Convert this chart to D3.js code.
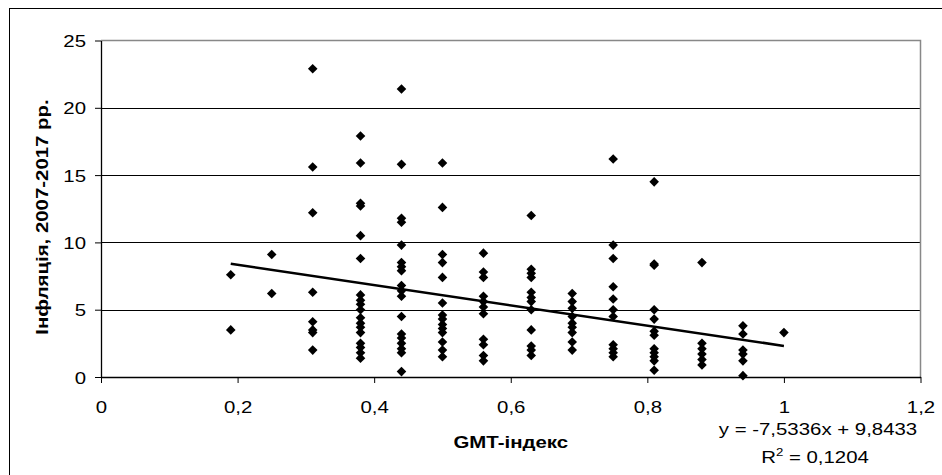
<!DOCTYPE html>
<html>
<head>
<meta charset="utf-8">
<script src="https://cdn.jsdelivr.net/npm/d3@7"></script>
<style>
  body { margin: 0; background: #fff; }
  svg { display: block; font-family: "Liberation Sans", Arial, sans-serif; }
</style>
</head>
<body>
<svg id="chart" width="942" height="475"></svg>
<script>
// GMT index levels (x) and inflation values found at each level (y)
const gmtIndex = [0.19, 0.25, 0.31, 0.38, 0.44, 0.5, 0.56, 0.63, 0.69, 0.75, 0.81, 0.88, 0.94, 1];
const inflationByIndex = [
  [7.6, 3.5],
  [9.1, 6.2],
  [22.9, 15.6, 12.2, 6.3, 4.1, 3.5, 3.3, 2.0],
  [17.9, 15.9, 12.9, 12.7, 10.5, 8.8, 6.1, 5.7, 5.4, 5.0, 4.4, 4.0, 3.7, 3.3, 2.5, 2.2, 1.8, 1.4],
  [21.4, 15.8, 11.8, 11.5, 9.8, 8.5, 8.2, 7.9, 6.8, 6.4, 6.0, 4.5, 3.2, 2.9, 2.5, 2.1, 1.8, 0.4],
  [15.9, 12.6, 9.1, 8.5, 7.4, 5.5, 4.6, 4.3, 3.9, 3.6, 3.3, 2.6, 2.0, 1.5],
  [9.2, 7.8, 7.4, 6.0, 5.6, 5.2, 4.7, 2.8, 2.4, 1.6, 1.2],
  [12.0, 8.0, 7.7, 7.4, 6.3, 5.9, 5.6, 5.0, 3.5, 2.3, 2.0, 1.6],
  [6.2, 5.6, 5.1, 4.5, 4.0, 3.7, 3.3, 2.6, 2.0],
  [16.2, 9.8, 8.8, 6.7, 5.8, 5.0, 4.5, 2.4, 2.1, 1.8, 1.5],
  [14.5, 8.4, 8.3, 5.0, 4.3, 3.4, 3.1, 2.1, 1.8, 1.5, 1.2, 0.5],
  [8.5, 2.5, 2.1, 1.7, 1.3, 0.9],
  [3.8, 3.2, 2.0, 1.7, 1.2, 0.1],
  [3.3]
];
const xTicks = [0, 0.2, 0.4, 0.6, 0.8, 1, 1.2];
const yTicks = [0, 5, 10, 15, 20, 25];
const gridValues = [5, 10, 15, 20];

// linear trend from the original chart
const trendSlope = -7.5336;
const trendIntercept = 9.8433;
const rSquared = 0.1204;

const xTitle = "GMT-індекс";
const yTitle = "Інфляція, 2007-2017 рр.";

// the original text is drawn wider than Arial, so stretch it a bit
const STRETCH = 1.2;
const FONT_SIZE = 17;

const ua = d3.formatLocale({decimal: ",", thousands: " ", grouping: [3], currency: ["", ""], minus: "-"});

const points = [];
gmtIndex.forEach((g, i) => inflationByIndex[i].forEach(v => points.push({x: g, y: v})));

const svg = d3.select("#chart");
const plot = {left: 101, top: 40.5, right: 920.5, bottom: 377};

const xScale = d3.scaleLinear().domain([0, 1.2]).range([plot.left, plot.right]);
const yScale = d3.scaleLinear().domain([0, 25]).range([plot.bottom, plot.top]);

// outer chart border
svg.append("rect")
  .attr("x", 9.5).attr("y", 8.5)
  .attr("width", 950).attr("height", 480)
  .attr("fill", "none").attr("stroke", "#000").attr("stroke-width", 1);

// grid lines
svg.append("g").selectAll("line")
  .data(gridValues)
  .join("line")
  .attr("x1", plot.left).attr("x2", plot.right)
  .attr("y1", d => Math.round(yScale(d)) + 0.5)
  .attr("y2", d => Math.round(yScale(d)) + 0.5)
  .attr("stroke", "#000").attr("stroke-width", 1);

// plot area border top + right (grey)
svg.append("path")
  .attr("d", `M${plot.left},${plot.top}H${plot.right}V${plot.bottom}`)
  .attr("fill", "none").attr("stroke", "#888").attr("stroke-width", 1.5);

// axes
let yAxis = d3.axisLeft(yScale).tickValues(yTicks).tickSize(6).tickSizeOuter(0).tickFormat(d3.format("d"));
let gy = svg.append("g").attr("transform", `translate(${plot.left},0)`).call(yAxis);
gy.select(".domain").attr("stroke", "#000").attr("stroke-width", 1.3);
gy.selectAll(".tick line").attr("stroke", "#000");
gy.selectAll("text")
  .attr("x", null).attr("dy", null)
  .attr("text-anchor", "end")
  .attr("fill", "#000")
  .style("font-size", FONT_SIZE + "px")
  .attr("transform", `translate(-15,6) scale(${STRETCH},1)`);

let xAxis = d3.axisBottom(xScale).tickValues(xTicks).tickSize(6).tickSizeOuter(0).tickFormat(ua.format("~g"));
let gx = svg.append("g").attr("transform", `translate(0,${plot.bottom})`).call(xAxis);
gx.select(".domain").attr("stroke", "#000").attr("stroke-width", 1.3);
gx.selectAll(".tick line").attr("stroke", "#000");
gx.selectAll("text")
  .attr("y", null).attr("dy", null)
  .attr("text-anchor", "middle")
  .attr("fill", "#000")
  .style("font-size", FONT_SIZE + "px")
  .attr("transform", `translate(0,36) scale(${STRETCH},1)`);

// trend line over the data range
let xExt = d3.extent(points, d => d.x);
const lineGenerator = d3.line()
  .x(d => xScale(d))
  .y(d => yScale(trendSlope * d + trendIntercept));
svg.append("path")
  .datum(xExt)
  .attr("d", lineGenerator)
  .attr("fill", "none").attr("stroke", "#000").attr("stroke-width", 2.6);

// diamond markers
const diamond = d3.symbol().type(d3.symbolSquare).size(46);
svg.append("g").selectAll("path")
  .data(points)
  .join("path")
  .attr("d", diamond)
  .attr("transform", d => `translate(${xScale(d.x)},${yScale(d.y)}) rotate(45)`)
  .attr("fill", "#000");

// axis titles
svg.append("text")
  .attr("transform", `translate(${(plot.left + plot.right) / 2},448) scale(${STRETCH},1)`)
  .attr("text-anchor", "middle")
  .style("font-size", FONT_SIZE + "px").style("font-weight", "bold")
  .text(xTitle);

svg.append("text")
  .attr("transform", `translate(48,217) rotate(-90) scale(${STRETCH},1)`)
  .attr("text-anchor", "middle")
  .style("font-size", FONT_SIZE + "px").style("font-weight", "bold")
  .text(yTitle);

// trend equation
let f4 = ua.format(".4f");
svg.append("text")
  .attr("transform", `translate(818,435) scale(${STRETCH},1)`)
  .attr("text-anchor", "middle")
  .style("font-size", FONT_SIZE + "px")
  .text(`y = ${f4(trendSlope)}x + ${f4(trendIntercept)}`);

let r2 = svg.append("text")
  .attr("transform", `translate(815,463) scale(${STRETCH},1)`)
  .attr("text-anchor", "middle")
  .style("font-size", FONT_SIZE + "px");
r2.append("tspan").text("R");
r2.append("tspan").attr("dy", -7).style("font-size", "11px").text("2");
r2.append("tspan").attr("dy", 7).text(` = ${f4(rSquared)}`);
</script>
</body>
</html>
